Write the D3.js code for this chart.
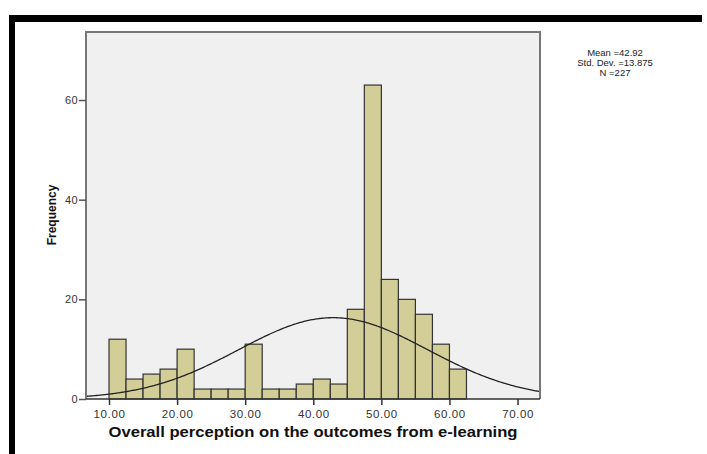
<!DOCTYPE html>
<html><head><meta charset="utf-8">
<script src="https://cdn.jsdelivr.net/npm/d3@7"></script>
<style>body{margin:0;background:#fff}svg{display:block}</style>
</head><body>
<script>
const binStart = 10, binWidth = 2.5;
const counts = [12,4,5,6,10,2,2,2,11,2,2,3,4,3,18,63,24,20,17,11,6];
const xTicks = [10,20,30,40,50,60,70];
const yTicks = [0,20,40,60];
const stats = {mean:42.92, sd:13.875, n:227};
const legendLines = ["Mean =42.92","Std. Dev. =13.875","N =227"];

const W=707,H=454;
const svg=d3.select("body").append("svg").attr("width",W).attr("height",H);
// frame
svg.append("rect").attr("x",9).attr("y",15).attr("width",693).attr("height",7).attr("fill","#000");
svg.append("rect").attr("x",9).attr("y",15).attr("width",6).attr("height",H-15).attr("fill","#000");

const L=86,R=540,T=32,B=399;
const x=d3.scaleLinear().domain([6.62,73.3]).range([L,R]);
const y=d3.scaleLinear().domain([0,73.65]).range([B,T]);

svg.append("rect").attr("x",L).attr("y",T).attr("width",R-L).attr("height",B-T).attr("fill","#f0f0f0");

const bins=counts.map((c,i)=>({x0:binStart+i*binWidth,x1:binStart+(i+1)*binWidth,c}));
svg.append("g").selectAll("rect").data(bins).join("rect")
  .attr("x",d=>x(d.x0)).attr("y",d=>y(d.c))
  .attr("width",d=>x(d.x1)-x(d.x0)).attr("height",d=>y(0)-y(d.c))
  .attr("fill","#d3ce98").attr("stroke","#333").attr("stroke-width",1.2);

// normal curve
const k=stats.n*binWidth/(stats.sd*Math.sqrt(2*Math.PI));
const pts=d3.range(0,401).map(i=>{const v=6.62+(73.3-6.62)*i/400;return [v,k*Math.exp(-0.5*((v-stats.mean)/stats.sd)**2)];});
svg.append("path").datum(pts).attr("d",d3.line().x(d=>x(d[0])).y(d=>y(d[1])))
  .attr("fill","none").attr("stroke","#222").attr("stroke-width",1.3);

// plot border left/top/right
svg.append("path").attr("d",`M${L},${B}V${T}H${R}V${B}`).attr("fill","none").attr("stroke","#777").attr("stroke-width",2);
svg.append("line").attr("x1",L).attr("x2",R).attr("y1",B).attr("y2",B).attr("stroke","#333").attr("stroke-width",1.5);

// axes
const xa=svg.append("g").attr("transform",`translate(0,${B})`)
  .call(d3.axisBottom(x).tickValues(xTicks).tickFormat(d3.format(".2f")).tickSize(6).tickSizeOuter(0));
xa.select(".domain").remove();
xa.selectAll(".tick line").attr("stroke","#333").attr("stroke-width",1.5);
xa.selectAll("text").attr("font-family","Liberation Sans, Arial, sans-serif").attr("font-size",11.5)
  .attr("letter-spacing","0.6px").attr("fill","#333").attr("dy","0.85em");

const ya=svg.append("g").attr("transform",`translate(${L},0)`)
  .call(d3.axisLeft(y).tickValues(yTicks).tickFormat(d3.format("d")).tickSize(7).tickSizeOuter(0));
ya.select(".domain").remove();
ya.selectAll(".tick line").attr("stroke","#555").attr("stroke-width",1.5);
ya.selectAll("text").attr("font-family","Liberation Sans, Arial, sans-serif").attr("font-size",11)
  .attr("letter-spacing","0.4px").attr("fill","#333").attr("x",-8);

svg.append("text").attr("x",(L+R)/2).attr("y",437).attr("text-anchor","middle")
  .attr("font-family","Liberation Sans, Arial, sans-serif").attr("font-weight","bold").attr("font-size",14).attr("fill","#111")
  .attr("textLength",409).attr("lengthAdjust","spacingAndGlyphs")
  .text("Overall perception on the outcomes from e-learning");
svg.append("text").attr("transform","translate(56,215) rotate(-90)").attr("text-anchor","middle")
  .attr("font-family","Liberation Sans, Arial, sans-serif").attr("font-weight","bold").attr("font-size",12).attr("fill","#111")
  .text("Frequency");

svg.append("g").selectAll("text").data(legendLines).join("text")
  .attr("x",615).attr("y",(d,i)=>56+i*10).attr("text-anchor","middle")
  .attr("font-family","Liberation Sans, Arial, sans-serif").attr("font-size",9.5).attr("fill","#222").text(d=>d);
</script>
</body></html>
